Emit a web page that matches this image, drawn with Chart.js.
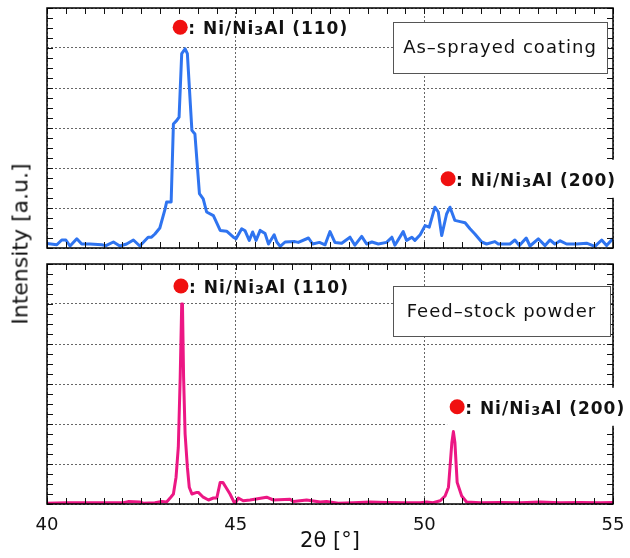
<!DOCTYPE html>
<html>
<head>
<meta charset="utf-8">
<script src="https://cdn.jsdelivr.net/npm/chart.js@4"></script>
<style>
  body { margin: 0; background: #fff; }
  #wrap { position: relative; width: 630px; height: 558px; }
  #wrap canvas { position: absolute; left: 0; }
  #sprayed { top: 0; }
  #powder { top: 256px; }
  #ytitle {
    position: absolute; left: 20px; top: 244px;
    transform: translate(-50%, -50%) rotate(-90deg);
    font: 22px "DejaVu Sans"; color: #111; white-space: nowrap;
  }
</style>
</head>
<body>
<div id="wrap">
  <canvas id="sprayed" width="630" height="256"></canvas>
  <canvas id="powder" width="630" height="302"></canvas>
  <div id="ytitle">Intensity [a.u.]</div>
</div>
<script>
// 2-theta positions (deg) and intensities (a.u.) for each sample
const sprayedAngle = [40.00, 40.26, 40.39, 40.50, 40.61, 40.79, 40.92, 41.14, 41.45, 41.56,
  41.76, 41.93, 42.11, 42.29, 42.46, 42.68, 42.77, 42.86, 42.99, 43.13,
  43.17, 43.29, 43.35, 43.44, 43.50, 43.57, 43.66, 43.72, 43.84, 43.92,
  44.04, 44.14, 44.23, 44.41, 44.59, 44.76, 44.94, 45.01, 45.16, 45.25,
  45.36, 45.45, 45.54, 45.65, 45.78, 45.87, 46.02, 46.09, 46.18, 46.31,
  46.57, 46.66, 46.93, 47.04, 47.22, 47.37, 47.50, 47.63, 47.81, 48.03,
  48.16, 48.34, 48.47, 48.61, 48.78, 49.00, 49.14, 49.22, 49.44, 49.53,
  49.67, 49.75, 49.89, 50.02, 50.13, 50.28, 50.37, 50.46, 50.59, 50.68,
  50.81, 50.95, 51.08, 51.21, 51.34, 51.52, 51.65, 51.87, 51.96, 52.27,
  52.40, 52.52, 52.70, 52.80, 53.02, 53.20, 53.33, 53.46, 53.60, 53.77,
  54.04, 54.30, 54.52, 54.70, 54.83, 55.00];
const sprayedIntensity = [0.11, 0.08, 0.20, 0.20, 0.05, 0.23, 0.10, 0.10, 0.08, 0.06,
  0.15, 0.05, 0.10, 0.20, 0.05, 0.27, 0.27, 0.35, 0.50, 0.98,
  1.15, 1.15, 3.10, 3.19, 3.27, 4.86, 4.98, 4.86, 2.94, 2.85,
  1.36, 1.23, 0.90, 0.81, 0.44, 0.42, 0.27, 0.23, 0.48, 0.43,
  0.19, 0.40, 0.19, 0.44, 0.36, 0.10, 0.33, 0.15, 0.04, 0.15,
  0.16, 0.14, 0.25, 0.10, 0.14, 0.08, 0.41, 0.14, 0.12, 0.27,
  0.07, 0.29, 0.10, 0.15, 0.10, 0.14, 0.27, 0.07, 0.41, 0.19,
  0.27, 0.19, 0.33, 0.56, 0.52, 1.02, 0.90, 0.31, 0.85, 1.02,
  0.69, 0.66, 0.63, 0.48, 0.35, 0.15, 0.10, 0.16, 0.10, 0.10,
  0.20, 0.06, 0.25, 0.05, 0.23, 0.06, 0.20, 0.10, 0.18, 0.10,
  0.10, 0.12, 0.04, 0.20, 0.06, 0.24];

const powderAngle = [40.00, 40.52, 42.02, 42.15, 42.46, 42.55, 42.86, 43.04, 43.17, 43.28,
  43.35, 43.42, 43.48, 43.53, 43.57, 43.59, 43.62, 43.66, 43.72, 43.77,
  43.84, 43.97, 44.01, 44.14, 44.28, 44.41, 44.50, 44.59, 44.66, 44.74,
  44.85, 44.98, 45.07, 45.20, 45.38, 45.82, 46.00, 46.44, 46.53, 46.88,
  47.24, 47.41, 47.72, 48.12, 48.56, 49.00, 49.44, 49.89, 50.06, 50.23,
  50.42, 50.55, 50.64, 50.73, 50.77, 50.81, 50.87, 50.99, 51.12, 51.48,
  52.01, 52.54, 53.07, 53.60, 54.13, 54.66, 55.00];
const powderIntensity = [0.02, 0.03, 0.03, 0.06, 0.05, 0.02, 0.03, 0.06, 0.05, 0.17,
  0.25, 0.67, 1.42, 3.17, 5.00, 5.00, 3.17, 1.75, 0.92, 0.42,
  0.25, 0.29, 0.29, 0.17, 0.10, 0.15, 0.15, 0.54, 0.54, 0.42,
  0.25, 0.00, 0.15, 0.08, 0.10, 0.17, 0.10, 0.12, 0.06, 0.10,
  0.05, 0.06, 0.02, 0.03, 0.05, 0.04, 0.03, 0.03, 0.05, 0.03,
  0.08, 0.20, 0.42, 1.54, 1.81, 1.54, 0.54, 0.20, 0.05, 0.03,
  0.04, 0.03, 0.05, 0.03, 0.04, 0.03, 0.04];

const angleTicks = [40, 45, 50, 55];
const FONT = 'DejaVu Sans';

// peak marker: red dot + ": Ni/Ni3Al (hkl)", optionally on a white patch
const drawNote = (ctx, px, py, hkl, boxed) => {
  const big = `bold 17px "${FONT}"`;
  const small = `bold 13px "${FONT}"`;
  const parts = [[': Ni/Ni', big, 0], ['3', small, 1], [`Al (${hkl})`, big, 0]];
  ctx.letterSpacing = '1px';
  const widths = parts.map(([t, f]) => { ctx.font = f; return ctx.measureText(t).width; });
  const total = widths.reduce((s, w) => s + w, 0);
  if (boxed) {
    ctx.fillStyle = '#fff';
    ctx.fillRect(px - 10, py - 19, total + 26, 38);
  }
  ctx.fillStyle = '#f01010';
  ctx.beginPath();
  ctx.arc(px, py, 7.5, 0, Math.PI * 2);
  ctx.fill();
  ctx.fillStyle = '#111';
  ctx.textBaseline = 'alphabetic';
  ctx.textAlign = 'left';
  let cx = px + 8;
  parts.forEach(([t, f, dy], i) => {
    ctx.font = f;
    ctx.fillText(t, cx, py + 7 + dy);
    cx += widths[i];
  });
  ctx.letterSpacing = '0px';
};

const panelDecor = {
  id: 'panelDecor',
  afterDatasetsDraw(chart, args, opts) {
    const { ctx, chartArea: a, scales: { x, y } } = chart;
    ctx.save();

    // inward minor ticks on all four sides
    ctx.strokeStyle = '#111';
    ctx.lineWidth = 1;
    ctx.beginPath();
    for (let i = 0; i <= 30; i++) {
      const px = Math.round(x.getPixelForValue(40 + i * 0.5)) + 0.5;
      ctx.moveTo(px, a.top); ctx.lineTo(px, a.top + 6);
      ctx.moveTo(px, a.bottom); ctx.lineTo(px, a.bottom - 6);
    }
    for (let i = 0; i <= 24; i++) {
      const py = Math.round(y.getPixelForValue(i * 0.25)) + 0.5;
      ctx.moveTo(a.left, py); ctx.lineTo(a.left + 6, py);
      ctx.moveTo(a.right, py); ctx.lineTo(a.right - 6, py);
    }
    ctx.stroke();

    ctx.lineWidth = 1.5;
    ctx.strokeStyle = '#000';
    ctx.strokeRect(a.left, a.top, a.width, a.height);

    // sample name box
    const [x0, y0, x1, y1] = opts.box;
    const bx = x.getPixelForValue(x0), by = y.getPixelForValue(y0);
    const bw = x.getPixelForValue(x1) - bx, bh = y.getPixelForValue(y1) - by;
    ctx.fillStyle = '#fff';
    ctx.fillRect(bx, by, bw, bh);
    ctx.lineWidth = 1;
    ctx.strokeStyle = '#555';
    ctx.strokeRect(Math.round(bx) + 0.5, Math.round(by) + 0.5, Math.round(bw), Math.round(bh));
    ctx.fillStyle = '#111';
    ctx.font = `18px "${FONT}"`;
    ctx.letterSpacing = '1px';
    ctx.textAlign = 'center';
    ctx.textBaseline = 'middle';
    ctx.fillText(opts.sample, bx + bw / 2, by + bh / 2 + 1);
    ctx.letterSpacing = '0px';

    opts.notes.forEach((n) => {
      drawNote(ctx, x.getPixelForValue(n.x), y.getPixelForValue(n.y), n.hkl, n.boxed);
    });
    ctx.restore();
  },
};

const makePanel = (canvas, angles, values, color, decor, withAxis) => {
  const xScale = {
    type: 'linear',
    min: 40,
    max: 55,
    afterBuildTicks: (s) => { s.ticks = angleTicks.map((v) => ({ value: v })); },
    afterFit: (s) => {
      s.height = withAxis ? 54 : 0;
      // end labels fit inside the layout padding already
      s.paddingLeft = 0;
      s.paddingRight = 0;
    },
    grid: { color: '#666', lineWidth: 1, drawTicks: false },
    border: { display: false, dash: [2, 2] },
    ticks: {
      display: withAxis,
      color: '#111',
      padding: 11,
      maxRotation: 0,
      autoSkip: false,
      font: { family: FONT, size: 18 },
    },
    title: {
      display: withAxis,
      text: '2θ [°]',
      color: '#111',
      font: { family: FONT, size: 21 },
      padding: { top: 0, bottom: 4 },
    },
  };

  return new Chart(canvas, {
    type: 'line',
    data: {
      datasets: [{
        data: angles.map((a, i) => ({ x: a, y: values[i] })),
        borderColor: color,
        borderWidth: 3,
        pointRadius: 0,
        tension: 0,
        borderJoinStyle: 'round',
      }],
    },
    options: {
      responsive: false,
      animation: false,
      devicePixelRatio: 1,
      layout: { padding: { left: 47, right: 17, top: 8, bottom: withAxis ? 0 : 8 } },
      plugins: { legend: { display: false }, tooltip: { enabled: false }, panelDecor: decor },
      scales: {
        x: xScale,
        y: {
          min: 0,
          max: 6,
          afterFit: (s) => { s.width = 0; },
          ticks: { display: false, stepSize: 1 },
          grid: { color: '#666', lineWidth: 1, drawTicks: false },
          border: { display: false, dash: [2, 2] },
        },
      },
    },
    plugins: [panelDecor],
  });
};

makePanel(document.getElementById('sprayed'), sprayedAngle, sprayedIntensity, '#2f74f0', {
  sample: 'As–sprayed coating',
  box: [49.17, 5.65, 54.84, 4.375],
  notes: [
    { x: 43.53, y: 5.52, hkl: '110', boxed: false },
    { x: 50.63, y: 1.73, hkl: '200', boxed: true },
  ],
}, false);

makePanel(document.getElementById('powder'), powderAngle, powderIntensity, '#ec1784', {
  sample: 'Feed–stock powder',
  box: [49.17, 5.45, 54.92, 4.2],
  notes: [
    { x: 43.55, y: 5.45, hkl: '110', boxed: false },
    { x: 50.87, y: 2.43, hkl: '200', boxed: true },
  ],
}, true);
</script>
</body>
</html>
